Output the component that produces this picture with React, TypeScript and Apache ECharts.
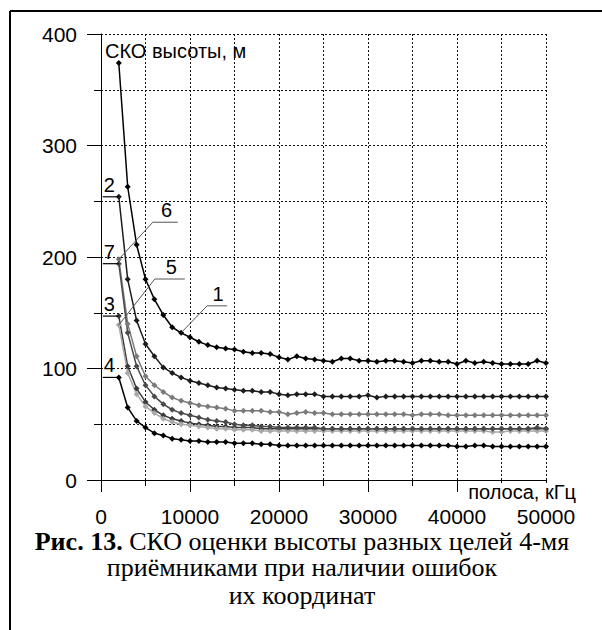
import React, { useEffect, useRef } from "react";
import * as echarts from "echarts";

// Bandwidth, kHz (x values of every curve)
const bandwidth = [
  2000, 3000, 4000, 5000, 6000, 7000, 8000, 9000, 10000, 11000, 12000, 13000, 14000, 15000, 16000, 17000,
  18000, 19000, 20000, 21000, 22000, 23000, 24000, 25000, 26000, 27000, 28000, 29000, 30000, 31000, 32000,
  33000, 34000, 35000, 36000, 37000, 38000, 39000, 40000, 41000, 42000, 43000, 44000, 45000, 46000, 47000,
  48000, 49000, 50000,
];

// Height RMS error, m
const curve1 = [
  374, 263, 211, 180, 162, 148, 137, 132, 128, 124, 121, 119, 118, 117, 115, 114, 114, 113, 110, 108, 111,
  109, 108, 107, 106, 109, 109, 107, 107, 106, 107, 107, 106, 105, 107, 107, 106, 106, 104, 107, 105, 106,
  105, 104, 104, 104, 104, 107, 105,
];
const curve2 = [
  254, 180, 143, 122, 111, 101, 96, 92, 89, 87, 85, 83, 82, 81, 80, 80, 79, 79, 77, 76, 77, 77, 77, 75, 75,
  75, 75, 75, 76, 74, 75, 75, 75, 75, 75, 75, 75, 75, 75, 75, 75, 75, 75, 75, 75, 75, 75, 75, 75,
];
const curve3 = [
  147, 102, 82, 70, 63, 58, 55, 53, 51, 50, 49, 48, 48, 47, 47, 47, 46, 46, 46, 46, 46, 46, 46, 46, 46, 46,
  46, 46, 46, 46, 46, 46, 46, 46, 46, 46, 46, 46, 46, 46, 46, 46, 46, 46, 46, 46, 46, 46, 46,
];
const curve4 = [
  92, 65, 53, 47, 42, 40, 37, 36, 35, 35, 34, 34, 34, 33, 33, 33, 32, 32, 31, 31, 31, 31, 31, 31, 31, 31, 31,
  31, 31, 31, 31, 31, 31, 31, 31, 31, 31, 31, 30, 30, 31, 31, 30, 30, 30, 30, 30, 30, 30,
];
const curve5 = [
  139, 96, 77, 66, 60, 55, 52, 50, 49, 48, 47, 46, 46, 45, 45, 45, 44, 44, 44, 44, 44, 44, 44, 44, 44, 44,
  44, 44, 44, 44, 44, 44, 44, 44, 44, 44, 44, 44, 44, 44, 44, 44, 43, 43, 44, 44, 44, 44, 44,
];
const curve6 = [
  198, 140, 111, 93, 85, 79, 74, 71, 69, 67, 66, 65, 64, 62, 62, 62, 62, 61, 61, 59, 60, 61, 60, 60, 59, 59,
  59, 59, 59, 59, 59, 59, 59, 58, 59, 59, 59, 58, 58, 58, 58, 58, 58, 58, 58, 58, 58, 58, 58,
];
const curve7 = [
  194, 132, 102, 85, 75, 68, 63, 60, 58, 56, 54, 53, 52, 50, 49, 49, 48, 48, 47, 47, 47, 47, 47, 46, 46, 46,
  46, 46, 46, 46, 46, 46, 46, 46, 46, 46, 46, 46, 46, 46, 46, 46, 46, 46, 46, 46, 46, 47, 46,
];

const curveNames = ["1", "2", "3", "4", "5", "6", "7"];
const curveColors = ["#000000", "#1c1c1c", "#3a3a3a", "#000000", "#a8a8a8", "#7a7a7a", "#4a4a4a"];

const yTitle = "СКО высоты, м";
const xTitle = "полоса, кГц";
const captionBold = "Рис. 13.";
const captionLine1 = " СКО оценки высоты разных целей 4-мя";
const captionLine2 = "приёмниками при наличии ошибок";
const captionLine3 = "их координат";

const SANS = "'Liberation Sans', Arial, sans-serif";
const SERIF = "'Liberation Serif', 'Times New Roman', serif";

export default function App() {
  const ref = useRef<HTMLDivElement>(null);

  useEffect(() => {
    const el = ref.current;
    if (!el) return;
    const chart = echarts.init(el, null, { renderer: "svg" });
    const curves = [curve1, curve2, curve3, curve4, curve5, curve6, curve7];

    const gridLine = { show: true, lineStyle: { color: "#111", width: 1, type: [2, 2] } };

    chart.setOption({
      animation: false,
      backgroundColor: "#ffffff",
      grid: { left: 101, top: 34, width: 445, height: 446, containLabel: false },
      xAxis: {
        type: "value",
        min: 0,
        max: 50000,
        interval: 10000,
        axisLine: { show: true, onZero: false, lineStyle: { color: "#000", width: 1 } },
        axisTick: { show: true, length: 12, lineStyle: { color: "#000" } },
        minorTick: { show: true, splitNumber: 2, length: 6, lineStyle: { color: "#000" } },
        splitLine: gridLine,
        minorSplitLine: gridLine,
        axisLabel: {
          color: "#000",
          fontFamily: SANS,
          fontSize: 21,
          lineHeight: 18,
          margin: 27,
          formatter: (v: number) => String(v),
        },
      },
      yAxis: {
        type: "value",
        min: 0,
        max: 400,
        interval: 100,
        axisLine: { show: true, lineStyle: { color: "#000", width: 1 } },
        axisTick: { show: true, length: 14, lineStyle: { color: "#000" } },
        minorTick: { show: true, splitNumber: 2, length: 7, lineStyle: { color: "#000" } },
        splitLine: gridLine,
        minorSplitLine: gridLine,
        axisLabel: { color: "#000", fontFamily: SANS, fontSize: 21, margin: 24 },
      },
      series: curves.map((c, k) => ({
        name: curveNames[k],
        type: "line",
        data: c.map((v, i) => [bandwidth[i], v]),
        symbol: "diamond",
        symbolSize: 6,
        showSymbol: true,
        itemStyle: { color: curveColors[k] },
        lineStyle: { color: curveColors[k], width: 1.5 },
        z: 3 + (k === 0 || k === 3 ? 2 : 0),
      })),
    });

    const px = (k: number, i: number) =>
      chart.convertToPixel({ gridIndex: 0 }, [bandwidth[i], curves[k][i]]) as number[];

    const labelFont = `20px ${SANS}`;
    const graphics: any[] = [];

    // straight labels at curve starts (2, 7, 3, 4)
    [1, 6, 2, 3].forEach((k) => {
      const a = px(k, 0);
      graphics.push({
        type: "line",
        shape: { x1: a[0] - 16, y1: a[1], x2: a[0], y2: a[1] },
        style: { stroke: "#000", lineWidth: 1.2 },
        z: 10,
      });
      graphics.push({
        type: "text",
        x: a[0] - 15,
        y: a[1] - 2,
        style: { text: curveNames[k], font: labelFont, fill: "#000", align: "left", verticalAlign: "bottom" },
        z: 10,
      });
    });

    // leader labels (6, 5, 1)
    const leaders: [number, number, number, number, number][] = [
      [5, 0, 34, 37, 25],
      [4, 0, 36, 46, 30],
      [0, 7, 26, 27, 20],
    ];
    leaders.forEach(([k, i, dx, dy, w]) => {
      const a = px(k, i);
      const p1 = [a[0] + dx, a[1] - dy];
      graphics.push({
        type: "polyline",
        shape: { points: [[a[0], a[1]], p1, [p1[0] + w, p1[1]]] },
        style: { stroke: "#555", lineWidth: 1, fill: null },
        z: 10,
      });
      graphics.push({
        type: "text",
        x: p1[0] + w * 0.55,
        y: p1[1] - 2,
        style: { text: curveNames[k], font: labelFont, fill: "#000", align: "center", verticalAlign: "bottom" },
        z: 10,
      });
    });

    // axis titles
    graphics.push({
      type: "text",
      x: 105,
      y: 51,
      style: { text: yTitle, font: `20px ${SANS}`, fill: "#000", align: "left", verticalAlign: "middle" },
      z: 10,
    });
    graphics.push({
      type: "text",
      x: 576,
      y: 492,
      style: {
        text: xTitle,
        font: `20px ${SANS}`,
        lineHeight: 18,
        fill: "#000",
        align: "right",
        verticalAlign: "middle",
        backgroundColor: "#ffffff",
      },
      z: 10,
    });

    // frame
    graphics.push({
      type: "line",
      shape: { x1: 10, y1: 11, x2: 602, y2: 11 },
      style: { stroke: "#000", lineWidth: 2 },
    });
    graphics.push({
      type: "line",
      shape: { x1: 10, y1: 11, x2: 10, y2: 630 },
      style: { stroke: "#000", lineWidth: 2 },
    });

    // caption
    graphics.push({
      type: "text",
      x: 302,
      y: 541,
      style: {
        text: `{b|${captionBold}}${captionLine1}`,
        fontFamily: SERIF,
        fontSize: 26,
        lineHeight: 24,
        fill: "#000",
        align: "center",
        verticalAlign: "middle",
        rich: { b: { fontFamily: SERIF, fontSize: 26, lineHeight: 24, fontWeight: "bold", fill: "#000" } },
      },
    });
    graphics.push({
      type: "text",
      x: 302,
      y: 567,
      style: {
        text: captionLine2,
        font: `26px ${SERIF}`,
        lineHeight: 24,
        fill: "#000",
        align: "center",
        verticalAlign: "middle",
      },
    });
    graphics.push({
      type: "text",
      x: 302,
      y: 595,
      style: {
        text: captionLine3,
        font: `26px ${SERIF}`,
        lineHeight: 24,
        fill: "#000",
        align: "center",
        verticalAlign: "middle",
      },
    });

    chart.setOption({ graphic: graphics });

    return () => chart.dispose();
  }, []);

  return (
    <div
      ref={ref}
      style={{ position: "absolute", left: 0, top: 0, width: 602, height: 630, background: "#fff" }}
    />
  );
}
